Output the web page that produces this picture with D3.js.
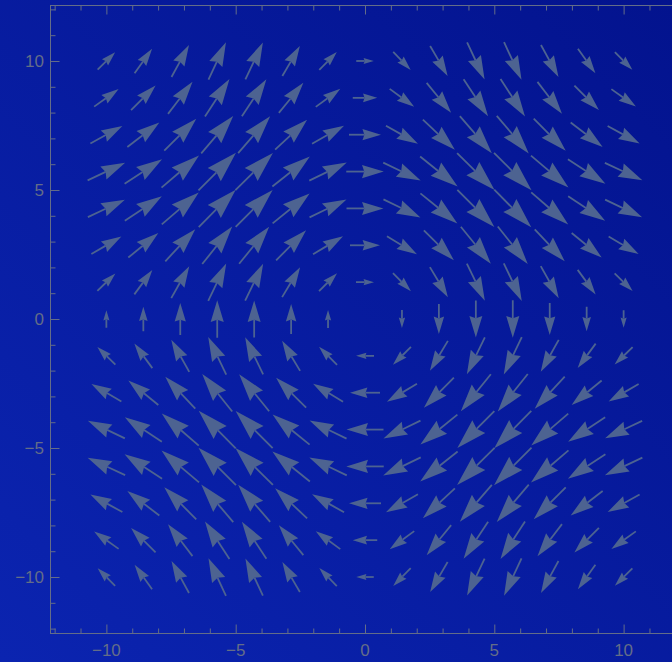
<!DOCTYPE html>
<html>
<head>
<meta charset="utf-8">
<script src="https://cdn.jsdelivr.net/npm/d3@7"></script>
<style>
  html, body { margin: 0; padding: 0; background: #0719a0; }
  svg { display: block; }
</style>
</head>
<body>
<svg id="chart"></svg>
<script>
// grid sample points (15 x 15 from -10 to 10)
const xValues = [-10, -8.571, -7.143, -5.714, -4.286, -2.857, -1.429, 0, 1.429, 2.857, 4.286, 5.714, 7.143, 8.571, 10];
const yValues = [10, 8.571, 7.143, 5.714, 4.286, 2.857, 1.429, 0, -1.429, -2.857, -4.286, -5.714, -7.143, -8.571, -10];

// horizontal component, one row per y value (top to bottom)
const uField = [
  [1.75, 1.75, 1.75, 1.75, 1.75, 1.75, 1.75, 1.75, 1.75, 1.75, 1.75, 1.75, 1.75, 1.75, 1.75],
  [2.45, 2.45, 2.45, 2.45, 2.45, 2.45, 2.45, 2.45, 2.45, 2.45, 2.45, 2.45, 2.45, 2.45, 2.45],
  [3.2, 3.2, 3.2, 3.2, 3.2, 3.2, 3.2, 3.2, 3.2, 3.2, 3.2, 3.2, 3.2, 3.2, 3.2],
  [3.75, 3.75, 3.75, 3.75, 3.75, 3.75, 3.75, 3.75, 3.75, 3.75, 3.75, 3.75, 3.75, 3.75, 3.75],
  [3.7, 3.7, 3.7, 3.7, 3.7, 3.7, 3.7, 3.7, 3.7, 3.7, 3.7, 3.7, 3.7, 3.7, 3.7],
  [3.0, 3.0, 3.0, 3.0, 3.0, 3.0, 3.0, 3.0, 3.0, 3.0, 3.0, 3.0, 3.0, 3.0, 3.0],
  [1.8, 1.8, 1.8, 1.8, 1.8, 1.8, 1.8, 1.8, 1.8, 1.8, 1.8, 1.8, 1.8, 1.8, 1.8],
  [0, 0, 0, 0, 0, 0, 0, 0, 0, 0, 0, 0, 0, 0, 0],
  [-1.8, -1.8, -1.8, -1.8, -1.8, -1.8, -1.8, -1.8, -1.8, -1.8, -1.8, -1.8, -1.8, -1.8, -1.8],
  [-3.0, -3.0, -3.0, -3.0, -3.0, -3.0, -3.0, -3.0, -3.0, -3.0, -3.0, -3.0, -3.0, -3.0, -3.0],
  [-3.7, -3.7, -3.7, -3.7, -3.7, -3.7, -3.7, -3.7, -3.7, -3.7, -3.7, -3.7, -3.7, -3.7, -3.7],
  [-3.75, -3.75, -3.75, -3.75, -3.75, -3.75, -3.75, -3.75, -3.75, -3.75, -3.75, -3.75, -3.75, -3.75, -3.75],
  [-3.2, -3.2, -3.2, -3.2, -3.2, -3.2, -3.2, -3.2, -3.2, -3.2, -3.2, -3.2, -3.2, -3.2, -3.2],
  [-2.45, -2.45, -2.45, -2.45, -2.45, -2.45, -2.45, -2.45, -2.45, -2.45, -2.45, -2.45, -2.45, -2.45, -2.45],
  [-1.75, -1.75, -1.75, -1.75, -1.75, -1.75, -1.75, -1.75, -1.75, -1.75, -1.75, -1.75, -1.75, -1.75, -1.75]
];

// vertical component (up is positive), same layout
const vField = [
  [1.75, 2.45, 3.2, 3.75, 3.7, 3.0, 1.8, 0, -1.8, -3.0, -3.7, -3.75, -3.2, -2.45, -1.75],
  [1.75, 2.45, 3.2, 3.75, 3.7, 3.0, 1.8, 0, -1.8, -3.0, -3.7, -3.75, -3.2, -2.45, -1.75],
  [1.75, 2.45, 3.2, 3.75, 3.7, 3.0, 1.8, 0, -1.8, -3.0, -3.7, -3.75, -3.2, -2.45, -1.75],
  [1.75, 2.45, 3.2, 3.75, 3.7, 3.0, 1.8, 0, -1.8, -3.0, -3.7, -3.75, -3.2, -2.45, -1.75],
  [1.75, 2.45, 3.2, 3.75, 3.7, 3.0, 1.8, 0, -1.8, -3.0, -3.7, -3.75, -3.2, -2.45, -1.75],
  [1.75, 2.45, 3.2, 3.75, 3.7, 3.0, 1.8, 0, -1.8, -3.0, -3.7, -3.75, -3.2, -2.45, -1.75],
  [1.75, 2.45, 3.2, 3.75, 3.7, 3.0, 1.8, 0, -1.8, -3.0, -3.7, -3.75, -3.2, -2.45, -1.75],
  [1.75, 2.45, 3.2, 3.75, 3.7, 3.0, 1.8, 0, -1.8, -3.0, -3.7, -3.75, -3.2, -2.45, -1.75],
  [1.75, 2.45, 3.2, 3.75, 3.7, 3.0, 1.8, 0, -1.8, -3.0, -3.7, -3.75, -3.2, -2.45, -1.75],
  [1.75, 2.45, 3.2, 3.75, 3.7, 3.0, 1.8, 0, -1.8, -3.0, -3.7, -3.75, -3.2, -2.45, -1.75],
  [1.75, 2.45, 3.2, 3.75, 3.7, 3.0, 1.8, 0, -1.8, -3.0, -3.7, -3.75, -3.2, -2.45, -1.75],
  [1.75, 2.45, 3.2, 3.75, 3.7, 3.0, 1.8, 0, -1.8, -3.0, -3.7, -3.75, -3.2, -2.45, -1.75],
  [1.75, 2.45, 3.2, 3.75, 3.7, 3.0, 1.8, 0, -1.8, -3.0, -3.7, -3.75, -3.2, -2.45, -1.75],
  [1.75, 2.45, 3.2, 3.75, 3.7, 3.0, 1.8, 0, -1.8, -3.0, -3.7, -3.75, -3.2, -2.45, -1.75],
  [1.75, 2.45, 3.2, 3.75, 3.7, 3.0, 1.8, 0, -1.8, -3.0, -3.7, -3.75, -3.2, -2.45, -1.75]
];

const majorTicks = [-10, -5, 0, 5, 10];
const minorTicks = [-12, -11, -9, -8, -7, -6, -4, -3, -2, -1, 1, 2, 3, 4, 6, 7, 8, 9, 11, 12];

const width = 672, height = 662;
const tickColor = "#646d88";
const arrowColor = "#4d6391";

const svg = d3.select("#chart")
    .attr("width", width)
    .attr("height", height);

const defs = svg.append("defs");
const grad = defs.append("linearGradient")
    .attr("id", "bg")
    .attr("x1", 0).attr("y1", 1)
    .attr("x2", 1).attr("y2", 0);
grad.append("stop").attr("offset", "0%").attr("stop-color", "#0b24b0");
grad.append("stop").attr("offset", "100%").attr("stop-color", "#03138e");

svg.append("rect")
    .attr("width", width)
    .attr("height", height)
    .attr("fill", "url(#bg)");

const x = d3.scaleLinear().domain([-12.18, 12.18]).range([50, 680]);
const y = d3.scaleLinear().domain([-12.17, 12.17]).range([633, 5]);
// vector magnitude -> arrow length in px
const len = d3.scaleLinear().domain([0, 1]).range([0, 10]);

// frame
const frame = svg.append("g")
    .attr("stroke", tickColor)
    .attr("stroke-width", 1)
    .attr("fill", "none");
frame.append("rect")
    .attr("x", x.range()[0] + 0.5)
    .attr("y", y.range()[1] + 0.5)
    .attr("width", x.range()[1] - x.range()[0])
    .attr("height", y.range()[0] - y.range()[1]);

// ticks pointing inward
const bottomAxis = d3.axisTop(x).tickValues(majorTicks).tickSize(9).tickFormat("");
const bottomMinor = d3.axisTop(x).tickValues(minorTicks).tickSize(5).tickFormat("");
const topAxis = d3.axisBottom(x).tickValues(majorTicks).tickSize(9).tickFormat("");
const topMinor = d3.axisBottom(x).tickValues(minorTicks).tickSize(5).tickFormat("");
const leftAxis = d3.axisRight(y).tickValues(majorTicks).tickSize(9).tickFormat("");
const leftMinor = d3.axisRight(y).tickValues(minorTicks).tickSize(5).tickFormat("");

function drawAxis(axis, tx, ty) {
    const g = svg.append("g")
        .attr("transform", "translate(" + tx + "," + ty + ")")
        .call(axis);
    g.select(".domain").remove();
    g.selectAll("line").attr("stroke", tickColor);
    return g;
}
drawAxis(bottomAxis, 0, y.range()[0] + 0.5);
drawAxis(bottomMinor, 0, y.range()[0] + 0.5);
drawAxis(topAxis, 0, y.range()[1] + 0.5);
drawAxis(topMinor, 0, y.range()[1] + 0.5);
drawAxis(leftAxis, x.range()[0] + 0.5, 0);
drawAxis(leftMinor, x.range()[0] + 0.5, 0);

const fmt = d3.format("d");
svg.append("g").selectAll("text")
    .data(majorTicks)
    .enter().append("text")
    .attr("x", d => x(d))
    .attr("y", 656)
    .attr("text-anchor", "middle")
    .attr("font-family", "Liberation Sans, Arial, sans-serif")
    .attr("font-size", 17)
    .attr("fill", tickColor)
    .text(d => fmt(d));

svg.append("g").selectAll("text")
    .data(majorTicks)
    .enter().append("text")
    .attr("x", 44)
    .attr("y", d => y(d) + 6)
    .attr("text-anchor", "end")
    .attr("font-family", "Liberation Sans, Arial, sans-serif")
    .attr("font-size", 17)
    .attr("fill", tickColor)
    .text(d => fmt(d));

// arrows, centred on their sample point
const points = [];
yValues.forEach((yv, r) => {
    xValues.forEach((xv, c) => {
        points.push({ x: xv, y: yv, u: uField[r][c], v: vField[r][c] });
    });
});

const arrows = svg.append("g").attr("class", "arrows");

points.forEach(p => {
    const dx = len(p.u), dy = -len(p.v);
    const L = Math.hypot(dx, dy);
    if (L < 0.5) return;
    const ux = dx / L, uy = dy / L;
    const px = -uy, py = ux;
    const cx = x(p.x), cy = y(p.y);
    const tipX = cx + dx / 2, tipY = cy + dy / 2;
    const tailX = cx - dx / 2, tailY = cy - dy / 2;
    const headLen = 0.58 * L, halfW = 0.175 * L, notch = 0.52 * L;
    const baseX = tipX - ux * headLen, baseY = tipY - uy * headLen;

    arrows.append("line")
        .attr("x1", tailX).attr("y1", tailY)
        .attr("x2", tipX - ux * notch).attr("y2", tipY - uy * notch)
        .attr("stroke", arrowColor)
        .attr("stroke-width", 1.8);

    const head = [
        [tipX, tipY],
        [baseX + px * halfW, baseY + py * halfW],
        [tipX - ux * notch, tipY - uy * notch],
        [baseX - px * halfW, baseY - py * halfW]
    ];
    arrows.append("path")
        .attr("d", d3.line()(head) + "Z")
        .attr("fill", arrowColor);
});
</script>
</body>
</html>
